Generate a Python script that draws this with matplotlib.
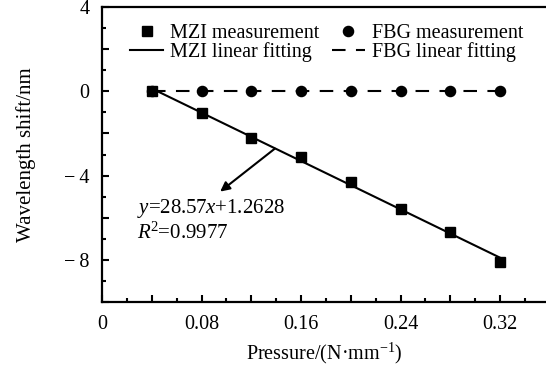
import numpy as np
import matplotlib
matplotlib.use("Agg")
import matplotlib.pyplot as plt
from matplotlib.ticker import MultipleLocator, FuncFormatter

plt.rcParams['font.family'] = ['Liberation Serif', 'DejaVu Serif']
plt.rcParams['mathtext.fontset'] = 'custom'
plt.rcParams['mathtext.rm'] = 'Liberation Serif'
plt.rcParams['mathtext.it'] = 'Liberation Serif:italic'
plt.rcParams['mathtext.bf'] = 'Liberation Serif:bold'
plt.rcParams['axes.unicode_minus'] = True

pressure = [0.04, 0.08, 0.12, 0.16, 0.20, 0.24, 0.28, 0.32]
mzi_shift = [0.0, -1.05, -2.2, -3.1, -4.3, -5.6, -6.7, -8.1]
fbg_shift = [0.0, 0.0, 0.0, 0.0, 0.0, 0.0, 0.0, 0.0]
eq_text = r'$y$=28.57$x$+1.2628'
r2_text = r'$R$$^2$=0.9977'

FS = 14.5
fig = plt.figure(figsize=(5.46, 3.69), dpi=100)
ax = fig.add_axes([102/546, 1-302/369, 1-102/546, (302-7)/369])

x = np.array(pressure)
k, b = np.polyfit(x, mzi_shift, 1)
kf, bf = np.polyfit(x, fbg_shift, 1)

ax.plot(x, mzi_shift, 's', color='black', ms=7.3, label='MZI measurement', zorder=3)
ax.plot(x, k*x+b, '-', color='black', lw=1.5, label='MZI linear fitting')
ax.plot(x, fbg_shift, 'o', color='black', ms=7.3, label='FBG measurement', zorder=3)
ax.plot(x, kf*x+bf, '--', color='black', lw=1.5, dashes=(6.5, 5), label='FBG linear fitting')

ax.set_xlim(0, (546-102)/1243.75)
ax.set_ylim(-10, 4)

ax.xaxis.set_major_locator(MultipleLocator(0.04))
ax.xaxis.set_minor_locator(MultipleLocator(0.02))
ax.yaxis.set_major_locator(MultipleLocator(2))
ax.yaxis.set_minor_locator(MultipleLocator(1))

def xfmt(v, pos):
    n = int(round(v / 0.04))
    if n % 2:
        return ''
    if n == 0:
        return '0'
    return f'{v:.2f}'

def yfmt(v, pos):
    n = int(round(v))
    if n % 4:
        return ''
    if n < 0:
        return '\u2212\u2009' + str(-n)
    return str(n)

ax.xaxis.set_major_formatter(FuncFormatter(xfmt))
ax.yaxis.set_major_formatter(FuncFormatter(yfmt))

for s in ['left', 'bottom', 'top']:
    ax.spines[s].set_linewidth(1.6)
ax.spines['right'].set_visible(False)
ax.tick_params(which='both', direction='in', width=1.5, labelsize=FS, top=False, right=False)
ax.tick_params(which='major', length=5)
ax.tick_params(which='minor', length=3)
ax.tick_params(axis='x', which='major', pad=9.5)
ax.tick_params(axis='y', which='major', pad=9)

ax.set_xlabel('Pressure/(N\u00b7mm$^{\u2212 1}$)', fontsize=FS, labelpad=5)
ax.set_ylabel('Wavelength shift/nm', fontsize=15, labelpad=20)

h, l = ax.get_legend_handles_labels()
ax.legend(h, l, ncol=2, frameon=False,
          loc='upper left', bbox_to_anchor=(130/546, 1-24/369), bbox_transform=fig.transFigure,
          fontsize=FS, handlelength=1.65, handletextpad=0.35, columnspacing=0.6,
          labelspacing=-0.05, borderaxespad=0, borderpad=0)

ax.annotate('', xy=(0.095, -4.76), xytext=(0.139, -2.72),
            arrowprops=dict(arrowstyle='-|>', color='black', lw=1.5, mutation_scale=14, shrinkA=0, shrinkB=0))
ax.text(0.028, -5.55, eq_text, fontsize=15, va='center', ha='left')
ax.text(0.028, -6.75, r2_text, fontsize=15, va='center', ha='left')

fig.savefig('out.png', dpi=100)
